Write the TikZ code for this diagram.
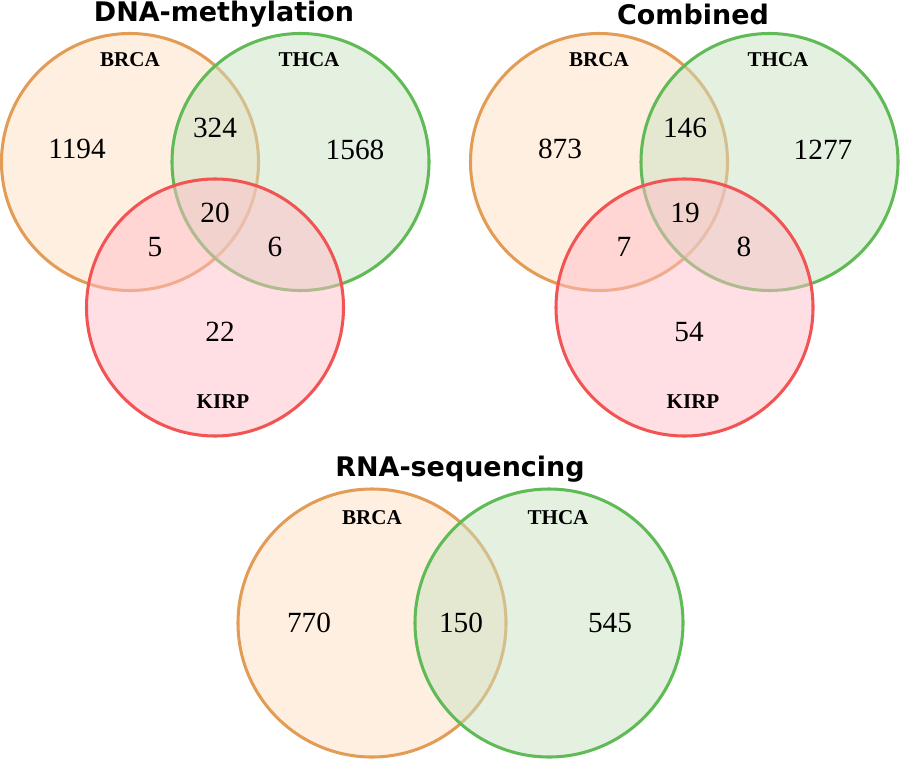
\documentclass[tikz,border=0pt]{standalone}
\usepackage{fontspec, tkz-euclide}
\setmainfont{Liberation Serif}
\newfontfamily\titlefont{DejaVu Sans}
\definecolor{brcaline}{RGB}{226,156,86}
\definecolor{brcafill}{RGB}{255,223,193}
\definecolor{thcaline}{RGB}{96,186,86}
\definecolor{thcafill}{RGB}{201,225,193}
\definecolor{kirpline}{RGB}{242,84,84}
\definecolor{kirpfill}{RGB}{255,189,201}
\tikzset{
  num/.style={font=\fontsize{25}{25}\selectfont},
  setname/.style={font=\fontsize{18}{18}\selectfont\bfseries},
  heading/.style={font=\fontsize{23}{23}\selectfont\titlefont\bfseries},
  brca/.style={draw=brcaline, line width=2.6pt, fill=brcafill, fill opacity=0.5},
  thca/.style={draw=thcaline, line width=2.6pt, fill=thcafill, fill opacity=0.5},
  kirp/.style={draw=kirpline, line width=2.6pt, fill=kirpfill, fill opacity=0.5}
}

\begin{document}
\begin{tikzpicture}[x=0.03cm,y=-0.03cm]
\useasboundingbox (0,0) rectangle (900,760);
\tkzDefPoints{130/162/A, 300.5/162/B, 215/307.5/C, 599/162/D, 769.5/162/E, 684.5/307.5/F, 372/623/G, 549/623/H}
\tkzDefShiftPoint[A](128.5,0){A1}
\tkzDefShiftPoint[B](128.5,0){B1}
\tkzDefShiftPoint[C](128.5,0){C1}
\tkzDefShiftPoint[D](128.5,0){D1}
\tkzDefShiftPoint[E](128.5,0){E1}
\tkzDefShiftPoint[F](128.5,0){F1}
\tkzDefShiftPoint[G](134,0){G1}
\tkzDefShiftPoint[H](134,0){H1}
\tkzDrawCircle[brca](A,A1)
\tkzDrawCircle[thca](B,B1)
\tkzDrawCircle[kirp](C,C1)
\tkzDrawCircle[brca](D,D1)
\tkzDrawCircle[thca](E,E1)
\tkzDrawCircle[kirp](F,F1)
\tkzDrawCircle[brca](G,G1)
\tkzDrawCircle[thca](H,H1)

\node[heading] (dnaTitle) at (224,14) {DNA-methylation};
\node[setname] (dnaBrca) at (130,60) {BRCA};
\node[setname] (dnaThca) at (309,60) {THCA};
\node[setname] (dnaKirp) at (223,402) {KIRP};
\node[num] (dnaB) at (77,149) {1194};
\node[num] (dnaBT) at (215,128) {324};
\node[num] (dnaT) at (355,150) {1568};
\node[num] (dnaBTK) at (215,213) {20};
\node[num] (dnaBK) at (155,247) {5};
\node[num] (dnaTK) at (275,247) {6};
\node[num] (dnaK) at (220,332) {22};

\node[heading] (cmbTitle) at (693,14) {Combined};
\node[setname] (cmbBrca) at (599,60) {BRCA};
\node[setname] (cmbThca) at (778,60) {THCA};
\node[setname] (cmbKirp) at (693,402) {KIRP};
\node[num] (cmbB) at (560,149) {873};
\node[num] (cmbBT) at (685,128) {146};
\node[num] (cmbT) at (823,150) {1277};
\node[num] (cmbBTK) at (685,213) {19};
\node[num] (cmbBK) at (624,247) {7};
\node[num] (cmbTK) at (744,247) {8};
\node[num] (cmbK) at (689,332) {54};

\node[heading] (rnaTitle) at (460,469) {RNA-sequencing};
\node[setname] (rnaBrca) at (372,518) {BRCA};
\node[setname] (rnaThca) at (558,518) {THCA};
\node[num] (rnaB) at (309,623) {770};
\node[num] (rnaBT) at (461,623) {150};
\node[num] (rnaT) at (610,623) {545};
\end{tikzpicture}
\end{document}
